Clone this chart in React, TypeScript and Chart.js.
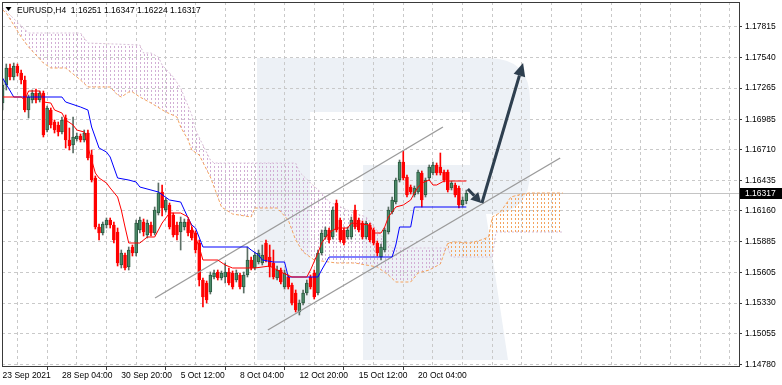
import React, { useEffect, useRef } from 'react';
import { Chart, registerables } from 'chart.js';

Chart.register(...registerables);

// ---------------- data ----------------
const symbolName = 'EURUSD,H4';
const lastBarOHLC = ['1.16251', '1.16347', '1.16224', '1.16317'];
const lastPrice = 1.16317;

const openP = [
  1.17131, 1.17293, 1.17446, 1.17365, 1.17464, 1.17401, 1.17338, 1.17068, 1.17158, 1.17221,
  1.17158, 1.17221, 1.16888, 1.17068, 1.16960, 1.16933, 1.16870, 1.16996, 1.16798, 1.16753,
  1.16807, 1.16834, 1.16798, 1.16861, 1.16663, 1.16456, 1.16015, 1.15961, 1.16033, 1.16078,
  1.16033, 1.15970, 1.15673, 1.15763, 1.15655, 1.15835, 1.15781, 1.15988, 1.16060, 1.15943,
  1.16033, 1.15961, 1.16141, 1.16330, 1.16168, 1.16213, 1.16123, 1.16033, 1.15970, 1.16015,
  1.16060, 1.15988, 1.15961, 1.15871, 1.15538, 1.15511, 1.15430, 1.15565, 1.15610, 1.15556,
  1.15565, 1.15610, 1.15601, 1.15538, 1.15583, 1.15475, 1.15583, 1.15718, 1.15646, 1.15700,
  1.15691, 1.15871, 1.15745, 1.15691, 1.15556, 1.15628, 1.15475, 1.15565, 1.15493, 1.15421,
  1.15250, 1.15331, 1.15421, 1.15565, 1.15601, 1.15421, 1.15781, 1.15925, 1.15988, 1.15925,
  1.16231, 1.16078, 1.15988, 1.15925, 1.15925, 1.16168, 1.16078, 1.16051, 1.15925, 1.16033,
  1.15988, 1.15871, 1.15745, 1.15808, 1.15970, 1.16150, 1.16240, 1.16438, 1.16600, 1.16465,
  1.16375, 1.16303, 1.16330, 1.16501, 1.16303, 1.16456, 1.16501, 1.16573, 1.16555, 1.16510,
  1.16510, 1.16366, 1.16393, 1.16366, 1.16213, 1.16251,
];
const highP = [
  1.17338, 1.17482, 1.17482, 1.17491, 1.17482, 1.17428, 1.17374, 1.17203, 1.17248, 1.17257,
  1.17239, 1.17239, 1.17104, 1.17086, 1.16978, 1.16960, 1.17005, 1.17023, 1.16906, 1.17005,
  1.16861, 1.16852, 1.16888, 1.16888, 1.16708, 1.16474, 1.16042, 1.16060, 1.16096, 1.16096,
  1.16060, 1.16006, 1.15808, 1.15781, 1.15835, 1.15853, 1.16078, 1.16105, 1.16087, 1.16078,
  1.16060, 1.16195, 1.16411, 1.16393, 1.16276, 1.16231, 1.16141, 1.16060, 1.16105, 1.16087,
  1.16087, 1.16015, 1.15979, 1.15898, 1.15556, 1.15529, 1.15610, 1.15628, 1.15628, 1.15619,
  1.15691, 1.15646, 1.15619, 1.15628, 1.15601, 1.15610, 1.15835, 1.15745, 1.15790, 1.15808,
  1.15853, 1.15898, 1.15853, 1.15808, 1.15664, 1.15646, 1.15628, 1.15583, 1.15511, 1.15448,
  1.15358, 1.15448, 1.15538, 1.15583, 1.15628, 1.15808, 1.15988, 1.16015, 1.16006, 1.16195,
  1.16258, 1.16096, 1.16006, 1.16015, 1.16105, 1.16213, 1.16096, 1.16069, 1.16069, 1.16051,
  1.16006, 1.15889, 1.15862, 1.16006, 1.16195, 1.16285, 1.16456, 1.16618, 1.16699, 1.16483,
  1.16393, 1.16384, 1.16528, 1.16519, 1.16456, 1.16573, 1.16600, 1.16591, 1.16681, 1.16528,
  1.16528, 1.16429, 1.16411, 1.16384, 1.16285, 1.16347,
];
const lowP = [
  1.17068, 1.17248, 1.17338, 1.17338, 1.17374, 1.17302, 1.17050, 1.16996, 1.17131, 1.17131,
  1.17140, 1.16825, 1.16870, 1.16906, 1.16861, 1.16834, 1.16852, 1.16726, 1.16708, 1.16681,
  1.16789, 1.16780, 1.16780, 1.16618, 1.16420, 1.15997, 1.15898, 1.15943, 1.16006, 1.16006,
  1.15871, 1.15664, 1.15646, 1.15628, 1.15628, 1.15754, 1.15754, 1.15961, 1.15934, 1.15916,
  1.15934, 1.15943, 1.16123, 1.16114, 1.16150, 1.15997, 1.15925, 1.15898, 1.15808, 1.15988,
  1.15934, 1.15898, 1.15781, 1.15484, 1.15295, 1.15331, 1.15412, 1.15547, 1.15538, 1.15538,
  1.15511, 1.15493, 1.15457, 1.15520, 1.15457, 1.15421, 1.15565, 1.15628, 1.15628, 1.15682,
  1.15673, 1.15700, 1.15565, 1.15547, 1.15538, 1.15502, 1.15457, 1.15457, 1.15313, 1.15250,
  1.15223, 1.15313, 1.15403, 1.15457, 1.15367, 1.15403, 1.15763, 1.15907, 1.15871, 1.15907,
  1.15970, 1.15880, 1.15853, 1.15907, 1.15907, 1.15997, 1.15970, 1.15907, 1.15907, 1.15880,
  1.15853, 1.15754, 1.15718, 1.15790, 1.15952, 1.16132, 1.16222, 1.16420, 1.16438, 1.16285,
  1.16312, 1.16285, 1.16312, 1.16195, 1.16285, 1.16438, 1.16483, 1.16483, 1.16483, 1.16420,
  1.16330, 1.16348, 1.16285, 1.16186, 1.16195, 1.16224,
];
const closeP = [
  1.17293, 1.17446, 1.17365, 1.17464, 1.17401, 1.17338, 1.17068, 1.17185, 1.17221, 1.17158,
  1.17221, 1.16843, 1.17086, 1.16933, 1.16888, 1.16870, 1.16978, 1.16798, 1.16744, 1.16825,
  1.16834, 1.16798, 1.16861, 1.16636, 1.16438, 1.16015, 1.15961, 1.16042, 1.16078, 1.16033,
  1.15898, 1.15691, 1.15781, 1.15646, 1.15808, 1.15781, 1.16051, 1.16078, 1.15970, 1.16051,
  1.15961, 1.16168, 1.16321, 1.16186, 1.16258, 1.16015, 1.15943, 1.15943, 1.16060, 1.16060,
  1.15961, 1.15916, 1.15808, 1.15538, 1.15385, 1.15358, 1.15583, 1.15601, 1.15556, 1.15601,
  1.15610, 1.15511, 1.15475, 1.15601, 1.15475, 1.15583, 1.15718, 1.15646, 1.15763, 1.15781,
  1.15763, 1.15718, 1.15655, 1.15565, 1.15628, 1.15520, 1.15601, 1.15475, 1.15331, 1.15268,
  1.15331, 1.15421, 1.15511, 1.15475, 1.15385, 1.15781, 1.15961, 1.15988, 1.15898, 1.16168,
  1.15988, 1.15898, 1.15871, 1.15988, 1.16078, 1.16015, 1.15988, 1.15925, 1.16051, 1.15898,
  1.15871, 1.15781, 1.15835, 1.15988, 1.16168, 1.16258, 1.16438, 1.16600, 1.16456, 1.16303,
  1.16330, 1.16366, 1.16510, 1.16258, 1.16438, 1.16555, 1.16573, 1.16501, 1.16501, 1.16438,
  1.16348, 1.16411, 1.16303, 1.16213, 1.16258, 1.16317,
];

// Ichimoku Tenkan-sen (red) — bar index / value pairs
const tenkanIdx = [0, 5, 6, 7, 10, 11, 13, 14, 16, 17, 19, 20, 22, 23, 25, 26, 28, 29, 31, 32, 33, 34, 37, 39, 41, 43, 45, 48, 50, 51, 53, 54, 58, 60, 62, 68, 72, 75, 78, 82, 83, 85, 86, 88, 90, 93, 94, 99, 100, 102, 103, 104, 106, 108, 110, 111, 112, 113, 115, 116, 117, 119, 125];
const tenkanVal = [1.17185, 1.17185, 1.17158, 1.17239, 1.17239, 1.17140, 1.17131, 1.17068, 1.17041, 1.16978, 1.16933, 1.16888, 1.16870, 1.16735, 1.16501, 1.16456, 1.16411, 1.16366, 1.16285, 1.16168, 1.16015, 1.15871, 1.15871, 1.15925, 1.15925, 1.16051, 1.16141, 1.16141, 1.16105, 1.16015, 1.15835, 1.15718, 1.15718, 1.15673, 1.15646, 1.15646, 1.15664, 1.15610, 1.15565, 1.15565, 1.15628, 1.15781, 1.15871, 1.15961, 1.16006, 1.16006, 1.16051, 1.16033, 1.15961, 1.15961, 1.16015, 1.16105, 1.16195, 1.16213, 1.16258, 1.16321, 1.16375, 1.16411, 1.16438, 1.16393, 1.16393, 1.16429, 1.16429];

// Kijun-sen (blue)
const kijunIdx = [0, 3, 16, 17, 21, 23, 24, 26, 28, 29, 31, 34, 36, 37, 40, 42, 45, 48, 50, 51, 52, 54, 66, 67, 69, 70, 73, 76, 77, 85, 86, 88, 105, 106, 107, 110, 111, 125];
const kijunVal = [1.17356, 1.17185, 1.17185, 1.17140, 1.17095, 1.17068, 1.16915, 1.16726, 1.16690, 1.16645, 1.16456, 1.16438, 1.16420, 1.16375, 1.16348, 1.16330, 1.16258, 1.16240, 1.16096, 1.16033, 1.16006, 1.15835, 1.15835, 1.15808, 1.15763, 1.15718, 1.15700, 1.15700, 1.15565, 1.15565, 1.15628, 1.15745, 1.15745, 1.15853, 1.16015, 1.16015, 1.16195, 1.16195];

// Senkou Span A (sandy brown) and Span B (thistle)
const spanAIdx = [0, 1, 5, 7, 11, 13, 17, 21, 23, 29, 31, 32, 34, 35, 37, 40, 44, 47, 48, 50, 51, 53, 56, 57, 59, 62, 67, 68, 74, 77, 78, 79, 81, 84, 90, 95, 101, 104, 106, 110, 112, 115, 118, 120, 122, 126, 129, 131, 132, 134, 137, 139, 142, 151];
const spanAVal = [1.17968, 1.17941, 1.17725, 1.17635, 1.17491, 1.17446, 1.17446, 1.17338, 1.17275, 1.17275, 1.17203, 1.17185, 1.17230, 1.17230, 1.17185, 1.17131, 1.17050, 1.17005, 1.16915, 1.16798, 1.16708, 1.16663, 1.16465, 1.16375, 1.16195, 1.16132, 1.16105, 1.16186, 1.16186, 1.16078, 1.15988, 1.15898, 1.15790, 1.15718, 1.15691, 1.15691, 1.15655, 1.15583, 1.15520, 1.15520, 1.15601, 1.15628, 1.15682, 1.15871, 1.15880, 1.15871, 1.15898, 1.15925, 1.16105, 1.16141, 1.16285, 1.16303, 1.16321, 1.16321];
const spanBIdx = [0, 2, 7, 21, 23, 37, 38, 40, 42, 43, 46, 48, 51, 52, 54, 56, 57, 79, 80, 83, 86, 88, 90, 94, 98, 103, 105, 120, 121, 132, 133, 151];
const spanBVal = [1.17986, 1.17923, 1.17761, 1.17761, 1.17671, 1.17653, 1.17581, 1.17581, 1.17545, 1.17473, 1.17365, 1.17266, 1.17023, 1.16888, 1.16753, 1.16618, 1.16591, 1.16591, 1.16510, 1.16411, 1.16321, 1.16240, 1.16213, 1.16150, 1.16105, 1.15898, 1.15826, 1.15826, 1.15745, 1.15745, 1.15970, 1.15970];
const cloudBars = [0, 151];

// Trend channel (bar index / price)
const channelUpperIdx = [41.1, 118.7];
const channelUpperVal = [1.15376, 1.16915];
const channelLowerIdx = [71.5, 150.3];
const channelLowerVal = [1.15088, 1.16636];

// Forecast arrows (bar index / price)
const arrowShortIdx = [125.4, 129.0];
const arrowShortVal = [1.16357, 1.16231];
const arrowLongIdx = [129.2, 140.3];
const arrowLongVal = [1.16231, 1.17491];

// Axes
const yTickValues = [1.14780, 1.15055, 1.15330, 1.15605, 1.15885, 1.16160, 1.16435, 1.16710, 1.16985, 1.17265, 1.17540, 1.17815];
const xGridTicks = [0, 8, 16, 24, 32, 40, 48, 56, 64, 72, 80, 88, 96, 104, 112, 120, 128, 136, 144, 152, 160, 168, 176, 184, 192];
const xLabelIdx = [0, 16, 32, 48, 64, 80, 96, 112];
const xLabelText = ['23 Sep 2021', '28 Sep 04:00', '30 Sep 20:00', '5 Oct 12:00', '8 Oct 04:00', '12 Oct 20:00', '15 Oct 12:00', '20 Oct 04:00'];
const xRange = [-0.16, 198.5];
const yRange = [1.14764, 1.1804];

// ---------------- styles ----------------
const FONT = '"Liberation Sans", Arial, Helvetica, sans-serif';
const FONT_SIZE = 8.5;
const UP_BODY = '#4b8a68';
const UP_EDGE = '#2a5a41';
const UP_WICK = '#5b6e64';
const DOWN = '#ff0000';
const GRID = '#c9c9c9';
const ARROW = '#2e3f4f';
const WATERMARK = '#edf1f6';
const KUMO_UP = '#f4a460';
const KUMO_DOWN = '#d2aed5';
const SPAN_A_IDX = 6;
const SPAN_B_IDX = 7;

function drawArrow(ctx: CanvasRenderingContext2D, x1: number, y1: number, x2: number, y2: number, w: number, headLen: number, headW: number) {
  const a = Math.atan2(y2 - y1, x2 - x1);
  const bx = x2 - headLen * Math.cos(a);
  const by = y2 - headLen * Math.sin(a);
  ctx.beginPath();
  ctx.moveTo(x1, y1);
  ctx.lineTo(bx, by);
  ctx.lineWidth = w;
  ctx.lineCap = 'butt';
  ctx.stroke();
  ctx.beginPath();
  ctx.moveTo(x2, y2);
  ctx.lineTo(bx + (headW / 2) * Math.sin(a), by - (headW / 2) * Math.cos(a));
  ctx.lineTo(bx - (headW / 2) * Math.sin(a), by + (headW / 2) * Math.cos(a));
  ctx.closePath();
  ctx.fill();
}

export default function App() {
  const ref = useRef<HTMLCanvasElement>(null);

  useEffect(() => {
    document.body.style.margin = '0';
    const canvas = ref.current;
    if (!canvas) return;

    const idx = openP.map((_, i) => i);
    const up = (i: number) => closeP[i] >= openP[i];
    const pts = (xs: number[], ys: number[]) => xs.map((x, k) => ({ x, y: ys[k] }));

    const bgPlugin = {
      id: 'bgWatermark',
      beforeDraw(chart: any) {
        const ctx = chart.ctx as CanvasRenderingContext2D;
        ctx.save();
        ctx.fillStyle = '#ffffff';
        ctx.fillRect(0, 0, chart.width, chart.height);
        ctx.fillStyle = WATERMARK;
        ctx.fillRect(257, 58, 53, 302);
        ctx.beginPath();
        ctx.moveTo(310, 58);
        ctx.lineTo(488, 58);
        ctx.quadraticCurveTo(530, 58, 530, 100);
        ctx.lineTo(530, 172);
        ctx.quadraticCurveTo(530, 212, 492, 214);
        ctx.lineTo(486, 214);
        ctx.lineTo(508, 360);
        ctx.lineTo(363, 360);
        ctx.lineTo(363, 165);
        ctx.lineTo(470, 165);
        ctx.lineTo(470, 112);
        ctx.lineTo(310, 112);
        ctx.closePath();
        ctx.fill();
        ctx.restore();
      },
      beforeDatasetsDraw(chart: any) {
        const ctx = chart.ctx as CanvasRenderingContext2D;
        const { left, right, top, bottom } = chart.chartArea;
        const xs = chart.scales.x;
        // Kumo hatch between Span A and Span B (dataset points placed by the scales)
        const pa = chart.getDatasetMeta(SPAN_A_IDX).data.map((p: any) => [p.x, p.y]);
        const pb = chart.getDatasetMeta(SPAN_B_IDX).data.map((p: any) => [p.x, p.y]);
        if (pa.length && pb.length) {
          ctx.save();
          ctx.beginPath();
          ctx.rect(left, top, right - left, bottom - top);
          ctx.clip();
          ctx.beginPath();
          ctx.moveTo(pa[0][0], pa[0][1]);
          for (const p of pa) ctx.lineTo(p[0], p[1]);
          for (let k = pb.length - 1; k >= 0; k--) ctx.lineTo(pb[k][0], pb[k][1]);
          ctx.closePath();
          ctx.clip();
          const hatch = (color: string) => {
            ctx.strokeStyle = color;
            ctx.lineWidth = 1;
            ctx.setLineDash([2, 2]);
            for (let b = cloudBars[0]; b <= cloudBars[1]; b++) {
              const x = Math.round(xs.getPixelForValue(b)) + 0.5;
              ctx.beginPath();
              ctx.moveTo(x, top);
              ctx.lineTo(x, bottom);
              ctx.stroke();
            }
          };
          ctx.save();
          ctx.beginPath();
          ctx.moveTo(pb[0][0], top);
          for (const p of pb) ctx.lineTo(p[0], p[1]);
          ctx.lineTo(pb[pb.length - 1][0], top);
          ctx.closePath();
          ctx.clip();
          hatch(KUMO_UP);
          ctx.restore();
          ctx.save();
          ctx.beginPath();
          ctx.moveTo(pb[0][0], bottom);
          for (const p of pb) ctx.lineTo(p[0], p[1]);
          ctx.lineTo(pb[pb.length - 1][0], bottom);
          ctx.closePath();
          ctx.clip();
          hatch(KUMO_DOWN);
          ctx.restore();
          ctx.restore();
        }
        const y = Math.round(chart.scales.y.getPixelForValue(lastPrice)) + 0.5;
        ctx.save();
        ctx.strokeStyle = '#c4c4c4';
        ctx.lineWidth = 1;
        ctx.beginPath();
        ctx.moveTo(left, y);
        ctx.lineTo(right, y);
        ctx.stroke();
        ctx.restore();
      },
    };

    const overlayPlugin = {
      id: 'overlay',
      afterDraw(chart: any) {
        const ctx = chart.ctx as CanvasRenderingContext2D;
        const xs = chart.scales.x;
        const ys = chart.scales.y;
        const { left, right, top, bottom } = chart.chartArea;
        ctx.save();
        ctx.strokeStyle = '#3a3a3a';
        ctx.lineWidth = 1;
        ctx.strokeRect(Math.round(left) + 0.5, Math.round(top) + 0.5, Math.round(right) - Math.round(left), Math.round(bottom) - Math.round(top));
        ctx.strokeStyle = ARROW;
        ctx.fillStyle = ARROW;
        drawArrow(ctx,
          xs.getPixelForValue(arrowShortIdx[0]), ys.getPixelForValue(arrowShortVal[0]),
          xs.getPixelForValue(arrowShortIdx[1]), ys.getPixelForValue(arrowShortVal[1]), 3, 10, 11);
        drawArrow(ctx,
          xs.getPixelForValue(arrowLongIdx[0]), ys.getPixelForValue(arrowLongVal[0]),
          xs.getPixelForValue(arrowLongIdx[1]), ys.getPixelForValue(arrowLongVal[1]), 3, 13, 12);
        const py = Math.round(ys.getPixelForValue(lastPrice));
        ctx.fillStyle = '#000000';
        ctx.fillRect(right + 1, py - 5, 42, 11);
        ctx.fillStyle = '#ffffff';
        ctx.font = `${FONT_SIZE}px ${FONT}`;
        ctx.textBaseline = 'middle';
        ctx.textAlign = 'left';
        ctx.fillText(lastPrice.toFixed(5), right + 6, py + 0.5);
        ctx.fillStyle = '#000000';
        ctx.beginPath();
        ctx.moveTo(5.5, 7);
        ctx.lineTo(11.5, 7);
        ctx.lineTo(8.5, 11);
        ctx.closePath();
        ctx.fill();
        ctx.textBaseline = 'alphabetic';
        ctx.fillText(`${symbolName}  ${lastBarOHLC.join(' ')}`, 17, 13);
        ctx.restore();
      },
    };

    const chart = new Chart(canvas, {
      type: 'bar',
      data: {
        datasets: [
          {
            type: 'line', label: 'Tenkan-sen', data: pts(tenkanIdx, tenkanVal),
            borderColor: '#ff0000', borderWidth: 1, pointRadius: 0, tension: 0, fill: false, order: 0,
          },
          {
            type: 'line', label: 'Kijun-sen', data: pts(kijunIdx, kijunVal),
            borderColor: '#0000ff', borderWidth: 1, pointRadius: 0, tension: 0, fill: false, order: 0,
          },
          {
            type: 'line', label: 'Channel upper', data: pts(channelUpperIdx, channelUpperVal),
            borderColor: '#9b9b9b', borderWidth: 1.4, pointRadius: 0, fill: false, order: 1,
          },
          {
            type: 'line', label: 'Channel lower', data: pts(channelLowerIdx, channelLowerVal),
            borderColor: '#9b9b9b', borderWidth: 1.4, pointRadius: 0, fill: false, order: 1,
          },
          {
            type: 'bar', label: 'Body', data: idx.map((i) => ({ x: i, y: [openP[i], closeP[i]] })) as any,
            barThickness: 3, grouped: false, borderSkipped: false, borderWidth: 1,
            backgroundColor: (c: any) => (up(c.dataIndex) ? UP_BODY : DOWN),
            borderColor: (c: any) => (up(c.dataIndex) ? UP_EDGE : DOWN),
            order: 2,
          } as any,
          {
            type: 'bar', label: 'Wick', data: idx.map((i) => ({ x: i, y: [lowP[i], highP[i]] })) as any,
            barThickness: 1, grouped: false, borderWidth: 0,
            backgroundColor: (c: any) => (up(c.dataIndex) ? UP_WICK : DOWN),
            order: 3,
          } as any,
          {
            type: 'line', label: 'Senkou Span A', data: pts(spanAIdx, spanAVal),
            borderColor: KUMO_UP, borderWidth: 1, borderDash: [3, 2], pointRadius: 0, tension: 0,
            fill: false, order: 5,
          },
          {
            type: 'line', label: 'Senkou Span B', data: pts(spanBIdx, spanBVal),
            borderColor: '#d8bfd8', borderWidth: 1, borderDash: [2, 2], pointRadius: 0, tension: 0,
            fill: false, order: 6,
          },
        ],
      },
      options: {
        responsive: false,
        animation: false,
        events: [],
        layout: { padding: { left: 2, top: 2, right: 0, bottom: 0 } },
        plugins: {
          legend: { display: false },
          tooltip: { enabled: false },
          title: { display: false },
        },
        scales: {
          x: {
            type: 'linear',
            min: xRange[0],
            max: xRange[1],
            offset: false,
            afterBuildTicks: (s: any) => { s.ticks = xGridTicks.map((v) => ({ value: v })); },
            afterFit: (s: any) => { s.height = 19; s.paddingLeft = 0; s.paddingRight = 0; },
            grid: {
              color: GRID,
              lineWidth: 1,
              drawTicks: true,
              tickLength: 4,
              tickBorderDash: [],
              tickColor: (c: any) => (c.tick && xLabelIdx.includes(c.tick.value) ? '#3a3a3a' : 'rgba(0,0,0,0)'),
            },
            border: { display: false, dash: [3, 3] },
            ticks: {
              autoSkip: false,
              maxRotation: 0,
              minRotation: 0,
              align: 'start',
              padding: 1,
              color: '#000000',
              font: { family: FONT, size: FONT_SIZE },
              callback: (v: any) => {
                const k = xLabelIdx.indexOf(Number(v));
                return k >= 0 ? xLabelText[k] : '';
              },
            },
          },
          y: {
            type: 'linear',
            position: 'right',
            min: yRange[0],
            max: yRange[1],
            afterBuildTicks: (s: any) => { s.ticks = yTickValues.map((v) => ({ value: v })); },
            afterFit: (s: any) => { s.width = 43; s.paddingTop = 0; s.paddingBottom = 0; },
            grid: {
              color: GRID,
              lineWidth: 1,
              drawTicks: true,
              tickLength: 3,
              tickBorderDash: [],
              tickColor: '#3a3a3a',
            },
            border: { display: false, dash: [3, 3] },
            ticks: {
              padding: 3,
              color: '#000000',
              font: { family: FONT, size: FONT_SIZE },
              callback: (v: any) => Number(v).toFixed(5),
            },
          },
        },
      } as any,
      plugins: [bgPlugin, overlayPlugin],
    });

    return () => chart.destroy();
  }, []);

  return <canvas ref={ref} width={782} height={385} style={{ display: 'block', width: 782, height: 385 }} />;
}
